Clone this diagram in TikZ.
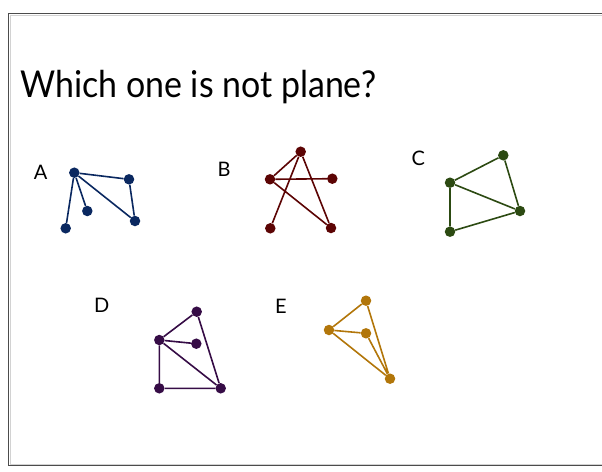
\documentclass[tikz,border=0pt]{standalone}
\usepackage{fontspec}
\usepackage{graphicx}
\setmainfont{Lato}
\definecolor{cA}{HTML}{0A2860}
\definecolor{cB}{HTML}{5C0404}
\definecolor{cC}{HTML}{2C4A12}
\definecolor{cD}{HTML}{360C46}
\definecolor{cE}{HTML}{B2760A}
\begin{document}
\begin{tikzpicture}[x=1pt,y=-1pt,
  vtx/.style={circle,fill=#1,inner sep=0pt,minimum size=10.5pt},
  edg/.style={draw=#1,line width=1.6pt},
  lbl/.style={font=\fontsize{20}{24}\selectfont,inner sep=0pt}]
\useasboundingbox (0,0) rectangle (602,471);
\draw[gray!35,line width=1pt] (10,15) rectangle (615,464);
\draw[black!70,line width=1pt] (8.5,13.5) rectangle (615,465.5);
\node[anchor=base west,inner sep=0pt,font=\fontsize{37}{44}\selectfont] (title) at (20,97) {\scalebox{0.917}[1]{Which one is not plane?}};
% A
\node[lbl] (la) at (40.7,172) {A};
\node[vtx=cA] (a1) at (74.3,172.7) {};
\node[vtx=cA] (a2) at (129,179.3) {};
\node[vtx=cA] (a3) at (87.3,211) {};
\node[vtx=cA] (a4) at (65.7,228.3) {};
\node[vtx=cA] (a5) at (135,221) {};
\path[edg=cA] (a1)--(a2) (a1)--(a3) (a1)--(a4) (a1)--(a5) (a2)--(a5);
% B
\node[lbl] (lb) at (224,169.3) {B};
\node[vtx=cB] (b1) at (300.7,151.7) {};
\node[vtx=cB] (b2) at (270,179.3) {};
\node[vtx=cB] (b3) at (332.3,178.7) {};
\node[vtx=cB] (b4) at (270.3,228.3) {};
\node[vtx=cB] (b5) at (331,228) {};
\path[edg=cB] (b1)--(b2) (b2)--(b3) (b1)--(b4) (b1)--(b5) (b2)--(b5);
% C
\node[lbl] (lc) at (418.3,158.3) {C};
\node[vtx=cC] (c1) at (503.3,155.3) {};
\node[vtx=cC] (c2) at (450,182.7) {};
\node[vtx=cC] (c3) at (520,211) {};
\node[vtx=cC] (c4) at (450,231.7) {};
\path[edg=cC] (c2)--(c1) (c1)--(c3) (c2)--(c3) (c2)--(c4) (c4)--(c3);
% D
\node[lbl] (ld) at (101.7,305) {D};
\node[vtx=cD] (d1) at (196.7,311.7) {};
\node[vtx=cD] (d2) at (159.3,340) {};
\node[vtx=cD] (d3) at (196.3,343.7) {};
\node[vtx=cD] (d4) at (159.3,388.3) {};
\node[vtx=cD] (d5) at (220.7,388.3) {};
\path[edg=cD] (d2)--(d1) (d2)--(d3) (d1)--(d5) (d2)--(d5) (d2)--(d4) (d4)--(d5);
% E
\node[lbl] (le) at (281,306.7) {E};
\node[vtx=cE] (e1) at (366,300.7) {};
\node[vtx=cE] (e2) at (329,330) {};
\node[vtx=cE] (e3) at (366,333.3) {};
\node[vtx=cE] (e4) at (390,378.7) {};
\path[edg=cE] (e2)--(e1) (e1)--(e4) (e2)--(e3) (e3)--(e4) (e2)--(e4);
\end{tikzpicture}
\end{document}
